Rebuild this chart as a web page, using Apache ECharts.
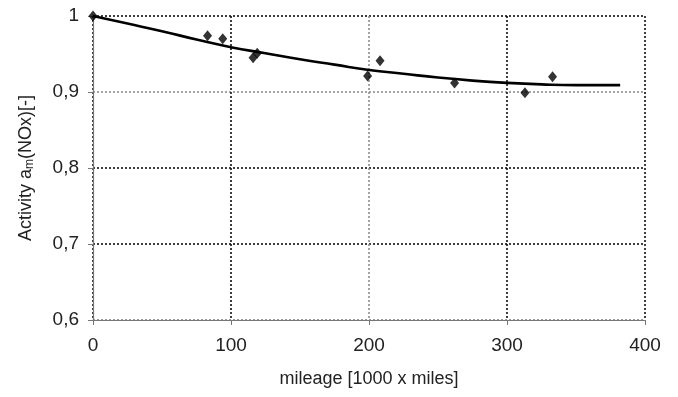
<!DOCTYPE html>
<html>
<head>
<meta charset="utf-8">
<script src="https://cdn.jsdelivr.net/npm/echarts@6/dist/echarts.min.js"></script>
<style>html,body{margin:0;padding:0;background:#fff}#c{width:678px;height:397px}</style>
</head>
<body>
<div id="c"></div>
<script>
// measured points
const mileage = [0, 83, 94, 116, 119, 199, 208, 262, 313, 333];
const activity = [1.0, 0.974, 0.970, 0.945, 0.951, 0.921, 0.941, 0.912, 0.899, 0.920];
// fitted trend curve
const curveX = [0, 25, 50, 75, 100, 125, 150, 175, 200, 225, 250, 275, 300, 325, 350, 382];
const curveY = [1.0, 0.990, 0.980, 0.969, 0.959, 0.951, 0.943, 0.936, 0.929, 0.924, 0.919, 0.915, 0.912, 0.910, 0.909, 0.909];
const xTicks = [0, 100, 200, 300, 400];
const yTickLabels = ['0,6', '0,7', '0,8', '0,9', '1'];

const chart = echarts.init(document.getElementById('c'));
const FONT = 'Liberation Sans, Arial, sans-serif';
chart.setOption({
  animation: false,
  grid: {left: 93, right: 33, top: 16, bottom: 77},
  xAxis: {
    type: 'value', min: 0, max: 400, interval: 100,
    name: 'mileage [1000 x miles]', nameLocation: 'middle', nameGap: 50,
    nameTextStyle: {fontFamily: FONT, fontSize: 18, color: '#222'},
    axisLine: {show: true, lineStyle: {color: '#777', width: 1.2}},
    axisTick: {show: true, length: 5, lineStyle: {color: '#777'}},
    axisLabel: {margin: 16, fontFamily: FONT, fontSize: 19, color: '#222',
      formatter: v => String(xTicks[xTicks.indexOf(v)])},
    splitLine: {show: true, lineStyle: {type: [2, 2], width: 1.5, color: ['#000', '#000', '#888', '#000', '#000']}}
  },
  yAxis: {
    type: 'value', min: 0.6, max: 1.0, interval: 0.1,
    name: '{n|Activity a}{s|m}{n|(NOx)[-]}', nameLocation: 'middle', nameGap: 57, nameRotate: 90,
    nameTextStyle: {rich: {
      n: {fontFamily: FONT, fontSize: 18, color: '#222', lineHeight: 20},
      s: {fontFamily: FONT, fontSize: 12, color: '#222', verticalAlign: 'bottom', lineHeight: 10}
    }},
    axisLine: {show: true, lineStyle: {color: '#777', width: 1.2}},
    axisTick: {show: true, length: 5, lineStyle: {color: '#777'}},
    axisLabel: {margin: 14, fontFamily: FONT, fontSize: 19, color: '#222',
      formatter: (v) => yTickLabels[Math.round((v - 0.6) * 10)]},
    splitLine: {show: true, lineStyle: {type: [2, 2], width: 1.5, color: ['#777', '#000', '#000', '#888', '#000']}}
  },
  series: [
    {
      type: 'line', data: curveX.map((x, i) => [x, curveY[i]]), smooth: true,
      showSymbol: false, lineStyle: {color: '#000', width: 2.6}, z: 3
    },
    {
      type: 'scatter', data: mileage.map((x, i) => [x, activity[i]]),
      symbol: 'diamond', symbolSize: [9, 11], itemStyle: {color: '#000'}, z: 4
    }
  ]
});
</script>
</body>
</html>
